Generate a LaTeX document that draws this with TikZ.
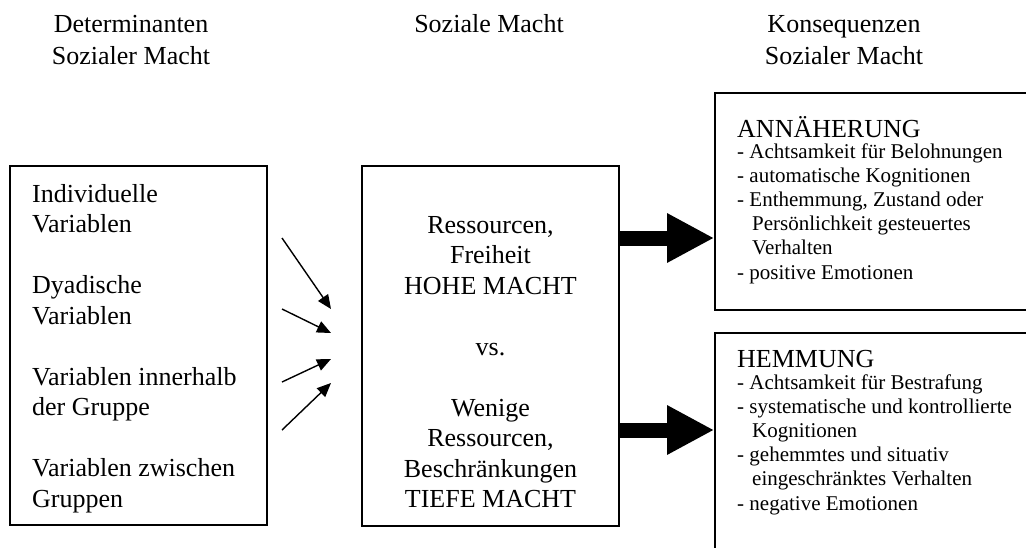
\documentclass[tikz,border=0pt]{standalone}
\usepackage{fontspec}
\setmainfont{Liberation Serif}
\usetikzlibrary{arrows.meta}
\begin{document}
\begin{tikzpicture}[x=1pt,y=-1pt]
        \tikzstyle{box_style} = [draw, line width=1.6pt, inner sep=0pt]
        \tikzstyle{text_style} = [inner sep=0pt, font=\fontsize{26}{30.5}\selectfont]
        \tikzstyle{list_style} = [inner sep=0pt, font=\fontsize{21}{24.2}\selectfont]
        \tikzstyle{arrow_style1} = [-{Triangle[length=14pt,width=12pt]}, black, line width=1.4pt]
        \tikzstyle{arrow_style2} = [-{Triangle[length=47pt,width=46pt]}, black, line width=15pt]

        \useasboundingbox (0,0) rectangle (1026,547);

        % Headers at the top
        \node[text_style, anchor=base] (h1) at (131,32) {\begin{tabular}[t]{@{}c@{}}Determinanten\\[1.5pt]Sozialer Macht\end{tabular}};
        \node[text_style, anchor=base] (h2) at (489,32) {Soziale Macht};
        \node[text_style, anchor=base] (h3) at (844,32) {\begin{tabular}[t]{@{}c@{}}Konsequenzen\\[1.5pt]Sozialer Macht\end{tabular}};

        % The boxes
        \node[box_style, minimum width=257pt, minimum height=359pt] (b1) at (138.5,345.5) {};
        \node[box_style, minimum width=257pt, minimum height=360pt] (b2) at (490.5,346) {};
        \node[box_style, minimum width=325pt, minimum height=217pt] (b3) at (877.5,201.5) {};
        \node[box_style, minimum width=325pt, minimum height=237pt] (b4) at (877.5,451.5) {};

        % Left box
        \node[text_style, anchor=base west] (t1) at (32,202) {\begin{tabular}[t]{@{}l@{}}
            Individuelle\\Variablen\\ \\
            Dyadische\\Variablen\\ \\
            Variablen innerhalb\\der Gruppe\\ \\
            Variablen zwischen\\Gruppen\end{tabular}};

        % Middle box
        \node[text_style, anchor=base] (t2) at (490.5,233) {\begin{tabular}[t]{@{}c@{}}
            Ressourcen,\\Freiheit\\HOHE MACHT\\ \\vs.\\ \\
            Wenige\\Ressourcen,\\Beschränkungen\\TIEFE MACHT\end{tabular}};

        % Right boxes
        \node[text_style, anchor=base west] (t3) at (737,137) {ANNÄHERUNG};
        \node[list_style, anchor=base west] (t4) at (737,158) {\begin{tabular}[t]{@{}l@{}}
            - Achtsamkeit für Belohnungen\\
            - automatische Kognitionen\\
            - Enthemmung, Zustand oder\\
            \hspace*{15pt}Persönlichkeit gesteuertes\\
            \hspace*{15pt}Verhalten\\
            - positive Emotionen\end{tabular}};

        \node[text_style, anchor=base west] (t5) at (737,367) {HEMMUNG};
        \node[list_style, anchor=base west] (t6) at (737,389) {\begin{tabular}[t]{@{}l@{}}
            - Achtsamkeit für Bestrafung\\
            - systematische und kontrollierte\\
            \hspace*{15pt}Kognitionen\\
            - gehemmtes und situativ\\
            \hspace*{15pt}eingeschränktes Verhalten\\
            - negative Emotionen\end{tabular}};

        % Small arrows into the middle box
        \coordinate (s1) at (282,238);
        \coordinate (e1) at (331,309);
        \coordinate (s2) at (282,309);
        \coordinate (e2) at (331,333);
        \coordinate (s3) at (282,382);
        \coordinate (e3) at (331,359);
        \coordinate (s4) at (282,430);
        \coordinate (e4) at (331,383);

        \draw[arrow_style1] (s1) -- (e1);
        \draw[arrow_style1] (s2) -- (e2);
        \draw[arrow_style1] (s3) -- (e3);
        \draw[arrow_style1] (s4) -- (e4);

        % Big arrows to the right
        \coordinate (a1) at (0,238);
        \coordinate (a2) at (0,430);
        \draw[arrow_style2] (b2.east |- a1) -- (b3.west |- a1);
        \draw[arrow_style2] (b2.east |- a2) -- (b4.west |- a2);
    \end{tikzpicture}
\end{document}
